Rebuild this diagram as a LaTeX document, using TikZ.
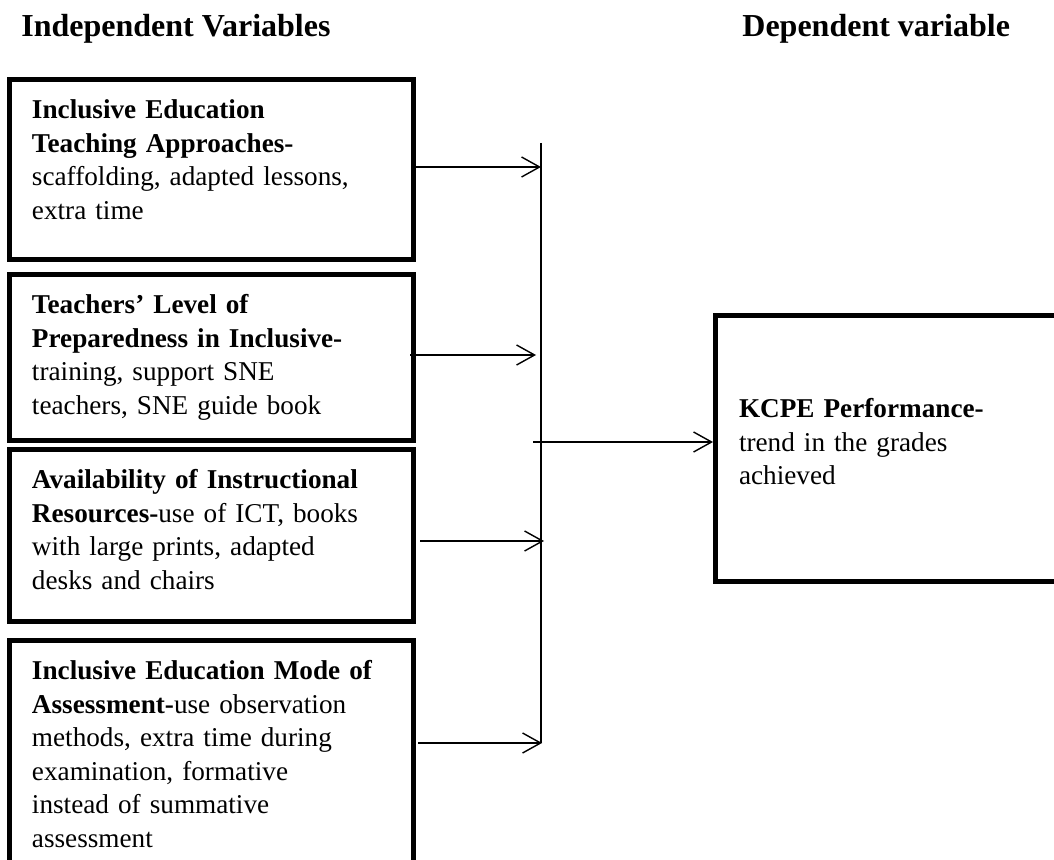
\documentclass[tikz,border=0pt]{standalone}
\usepackage{fontspec}
\setmainfont{Liberation Serif}
\usetikzlibrary{arrows.meta}

\begin{document}
\begin{tikzpicture}[x=0.5pt,y=-0.5pt,
		varbox/.style={draw,line width=2.5pt,anchor=north west,align=left,inner xsep=11.25pt,inner ysep=0pt,
			text width=179.5pt,minimum width=202pt,font=\fontsize{13.6}{16.75}\selectfont},
		heading/.style={anchor=base west,inner sep=0pt,font=\fontsize{16}{19}\selectfont\bfseries},
		link/.style={line width=0.7pt,-{Straight Barb[length=9pt,width=10pt,line width=0.7pt]}}]
	\useasboundingbox (0,0) rectangle (1054,860);

	\node[heading] (indep) at (21,37) {Independent Variables};
	\node[heading] (dep) at (742,37) {Dependent variable};

	\node[varbox,minimum height=90pt] (approaches) at (7,77) {
		\textbf{Inclusive Education}\\
		\textbf{Teaching Approaches-}\\
		scaffolding, adapted lessons,\\
		extra time\rule[-10pt]{0pt}{1pt}};
	\node[varbox,minimum height=83pt] (preparedness) at (7,272) {
		\textbf{Teachers’ Level of}\\
		\textbf{Preparedness in Inclusive-}\\
		training, support SNE\\
		teachers, SNE guide book};
	\node[varbox,minimum height=86pt] (resources) at (7,447) {
		\textbf{Availability of Instructional}\\
		\textbf{Resources-}use of ICT, books\\
		with large prints, adapted\\
		desks and chairs\rule[-6pt]{0pt}{1pt}};
	\node[varbox,minimum height=113.5pt] (assessment) at (7,638) {
		\textbf{Inclusive Education Mode of}\\
		\textbf{Assessment-}use observation\\
		methods, extra time during\\
		examination, formative\\
		instead of summative\\
		assessment};
	\node[varbox,minimum height=133pt,minimum width=182pt,text width=158.5pt,inner xsep=11.75pt] (kcpe) at (713,313) {
		\textbf{KCPE Performance-}\\
		trend in the grades\\
		achieved\rule[-7pt]{0pt}{1pt}};

	\coordinate (bustop) at (541,143);
	\coordinate (busbottom) at (541,743);
	\coordinate (junction) at (533,442);
	\draw[line width=0.7pt] (bustop) -- (busbottom);

	\draw[link] ([yshift=1.25pt]approaches.east) -- ([yshift=1.25pt]approaches.east -| bustop);
	\draw[link] ([xshift=-3pt,yshift=1.25pt]preparedness.east) -- ([xshift=-2.5pt,yshift=1.25pt]preparedness.east -| bustop);
	\draw[link] ([xshift=2pt,yshift=-2.75pt]resources.east) -- ([xshift=1.5pt,yshift=-2.75pt]resources.east -| bustop);
	\draw[link] ([xshift=1pt]assessment.east |- busbottom) -- ([xshift=0.5pt]busbottom);
	\draw[link] (junction) -- (junction -| kcpe.west);
\end{tikzpicture}
\end{document}
